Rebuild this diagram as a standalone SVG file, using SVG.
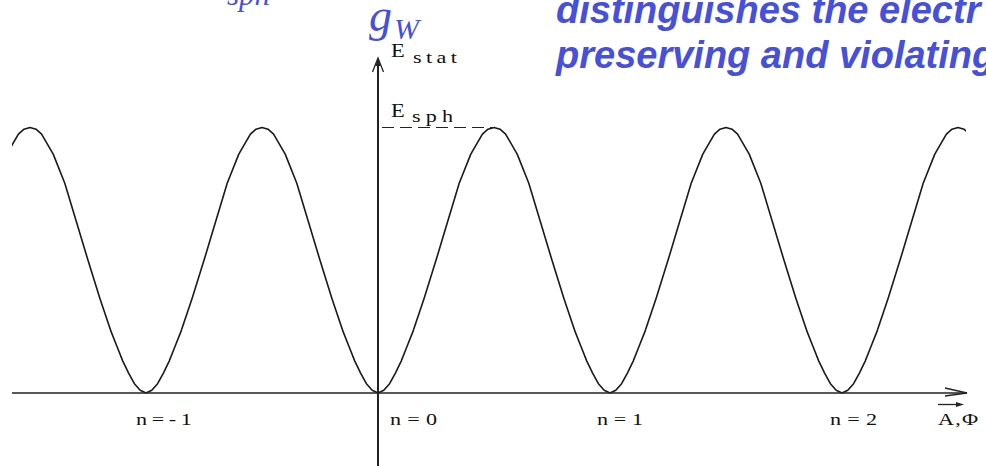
<svg xmlns="http://www.w3.org/2000/svg" xmlns:xlink="http://www.w3.org/1999/xlink" width="986" height="466" viewBox="0 0 986 466">
<style>
.blue{fill:#4650d8}
.title{font-family:"Liberation Sans",Arial,sans-serif;font-weight:bold;font-style:italic;font-size:38px}
.ital{font-family:"Liberation Serif","Times New Roman",serif;font-style:italic}
.lbl{font-family:"Liberation Serif","Times New Roman",serif;fill:#111}
.axis{stroke:#222;fill:none}
.curve{stroke:#1a1a1a;stroke-width:1.6;fill:none;stroke-linejoin:round}
</style>
<defs>
<polyline id="period" class="curve" points="0,393 5.8,390.3 11.6,383.7 17.4,373.1 23.2,361.1 29,346.5 34.8,331.9 46.4,297.4 58,260.3 69.6,221.8 81.2,183.3 92.8,154.1 104.4,134.1 110,129.2 116,127.5 122,129.2 127.6,134.1 139.2,154.1 150.8,183.3 162.4,221.8 174,260.3 185.6,297.4 197.2,331.9 203,346.5 208.8,361.1 214.6,373.1 220.4,383.7 226.2,390.3 232,393"/>
<clipPath id="clip"><rect x="12" y="100" width="954" height="300"/></clipPath>
</defs>

<g id="title">
<text class="ital blue" x="227" y="5" font-size="31">sph</text>
<text class="title blue" x="556" y="23">distinguishes the electr</text>
<text class="title blue" x="556" y="68">preserving and violating</text>
</g>

<g id="gw">
<text class="ital blue" x="369" y="31" font-size="46">g</text>
<text class="ital blue" x="394" y="39" font-size="30">W</text>
</g>

<g id="curve" clip-path="url(#clip)">
<use xlink:href="#period" x="-86"/>
<use xlink:href="#period" x="146"/>
<use xlink:href="#period" x="378"/>
<use xlink:href="#period" x="610"/>
<use xlink:href="#period" x="842"/>
</g>

<g id="connectors">
<line class="axis" x1="378" y1="59" x2="378" y2="466" stroke-width="2"/>
<polyline class="axis" points="372.5,72 378,58 383.5,72" stroke-width="1.3"/>
<polygon points="378,58 375.5,66 380.5,66" fill="#222"/>
<line class="axis" x1="12" y1="393" x2="967" y2="393" stroke-width="1.5"/>
<polyline class="axis" points="945,388 967,393 945,396" stroke-width="1.3"/>
<line class="axis" x1="382" y1="127.5" x2="494" y2="127.5" stroke-width="1.2" stroke-dasharray="12,6"/>
<line class="axis" x1="938" y1="404.5" x2="958" y2="404.5" stroke-width="1.3"/>
<polygon points="964,404.5 956,402 956,407" fill="#222"/>
</g>

<g id="labels">
<text class="lbl" transform="translate(391,57) scale(1.25,1)" font-size="18">E</text>
<text class="lbl" transform="translate(413,63) scale(1.3,1)" font-size="17" textLength="33.8" lengthAdjust="spacing">stat</text>
<text class="lbl" transform="translate(391,117) scale(1.25,1)" font-size="18">E</text>
<text class="lbl" transform="translate(412,122) scale(1.3,1)" font-size="17" textLength="31.5" lengthAdjust="spacing">sph</text>
<text class="lbl" transform="translate(136,425) scale(1.3,1)" font-size="17" textLength="43" lengthAdjust="spacing">n=-1</text>
<text class="lbl" transform="translate(390,425) scale(1.3,1)" font-size="17" textLength="36.2" lengthAdjust="spacing">n=0</text>
<text class="lbl" transform="translate(597,425) scale(1.3,1)" font-size="17" textLength="35.4" lengthAdjust="spacing">n=1</text>
<text class="lbl" transform="translate(830,425) scale(1.3,1)" font-size="17" textLength="36.2" lengthAdjust="spacing">n=2</text>
<text class="lbl" transform="translate(938,425) scale(1.3,1)" font-size="17" letter-spacing="1">A,Φ</text>
</g>
</svg>
